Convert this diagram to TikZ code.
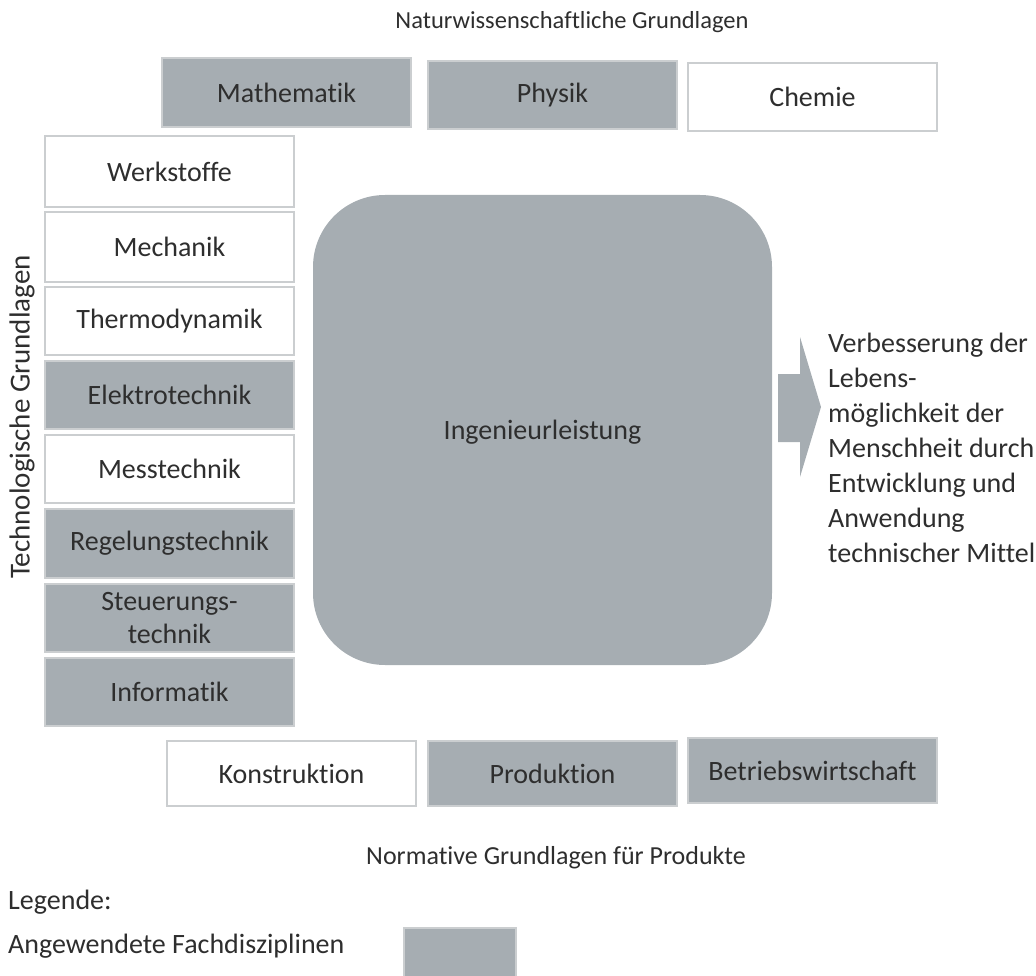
\documentclass[tikz,border=0pt]{standalone}
\usepackage{fontspec}
\setmainfont[Ligatures={NoCommon,NoContextual}]{Carlito}
\begin{document}
\definecolor{boxgray}{HTML}{A6ADB2}
\definecolor{edgegray}{HTML}{CBCED0}
\definecolor{ink}{HTML}{2E2E2E}
\begin{tikzpicture}[x=1pt,y=-1pt,
  every node/.style={text=ink,font=\fontsize{28}{35}\selectfont},
  field/.style={draw=edgegray,line width=2pt,inner sep=0pt},
  applied/.style={field,fill=boxgray},
  plain/.style={field,fill=white},
  core/.style={fill=boxgray,rounded corners=72pt},
  label/.style={inner sep=0pt}]
\useasboundingbox (0,0) rectangle (1036,976);

% headings of the three groups of foundations
\node[label,font=\fontsize{24.5}{30}\selectfont] (nat) at (572,22) {Naturwissenschaftliche Grundlagen};
\node[label,rotate=90,font=\fontsize{29}{30}\selectfont] (tech) at (22,417) {Technologische Grundlagen};
\node[label,font=\fontsize{26}{30}\selectfont] (norm) at (556,858) {Normative Grundlagen für Produkte};

% natural sciences
\draw[applied] (162,58) rectangle (411,127);
\node (math) at (286.5,92.5) {Mathematik};
\draw[applied] (428,61) rectangle (677,129);
\node (phys) at (552.5,95) {Physik};
\draw[plain] (688,63) rectangle (937,131);
\node (chem) at (812.5,97) {Chemie};

% technological foundations
\draw[plain] (45,136) rectangle (294,207);
\node (werk) at (169.5,171.5) {Werkstoffe};
\draw[plain] (45,212) rectangle (294,282);
\node (mech) at (169.5,247) {Mechanik};
\draw[plain] (45,287) rectangle (294,355);
\node (thermo) at (169.5,321) {Thermodynamik};
\draw[applied] (45,361) rectangle (294,429);
\node (elektro) at (169.5,395) {Elektrotechnik};
\draw[plain] (45,435) rectangle (294,503);
\node (mess) at (169.5,469) {Messtechnik};
\draw[applied] (45,509) rectangle (294,578);
\node (regel) at (169.5,543.5) {Regelungstechnik};
\draw[applied] (45,584) rectangle (294,652);
\node[align=center,font=\fontsize{28}{33}\selectfont] (steuer) at (169.5,618) {Steuerungs-\\technik};
\draw[applied] (45,658) rectangle (294,726);
\node (info) at (169.5,692) {Informatik};

% engineering achievement and its result
\fill[core] (313,195) rectangle (772,665);
\node (ing) at (542.5,432) {Ingenieurleistung};
\fill[boxgray] (778,374) -- (800,374) -- (800,337) -- (821,407)
  -- (800,477) -- (800,442) -- (778,442) -- cycle;
\node[label,anchor=north west,align=left] (ziel) at (828,333)
  {Verbesserung der\\Lebens-\\möglichkeit der\\Menschheit durch\\Entwicklung und\\Anwendung\\technischer Mittel};

% normative foundations
\draw[plain] (167,741) rectangle (416,806);
\node (konst) at (291.5,773.5) {Konstruktion};
\draw[applied] (428,741) rectangle (677,806);
\node (prod) at (552.5,773.5) {Produktion};
\draw[applied] (688,738) rectangle (937,803);
\node (bwl) at (812.5,770.5) {Betriebswirtschaft};

% legend
\node[label,anchor=west] (leg) at (8,902) {Legende:};
\node[label,anchor=west] (legtext) at (8,946) {Angewendete Fachdisziplinen};
\draw[applied] (404,928) rectangle (516,980);
\end{tikzpicture}
\end{document}
